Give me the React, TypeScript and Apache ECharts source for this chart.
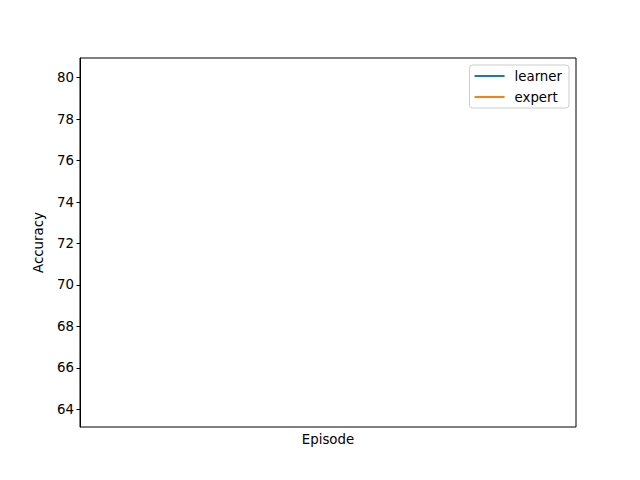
import React, { useEffect, useRef } from "react";
import * as echarts from "echarts";

const seriesNames = ["learner", "expert"];
const seriesColors = ["#1f77b4", "#ff7f0e"];
const learnerValues: number[] = [];
const expertValues: number[] = [];
const yTicks = [64, 66, 68, 70, 72, 74, 76, 78, 80];
const yMin = 63.15;
const yMax = 80.95;

export default function App() {
  const ref = useRef<HTMLDivElement>(null);
  useEffect(() => {
    if (!ref.current) return;
    const chart = echarts.init(ref.current, undefined, { renderer: "svg" });
    const font = "DejaVu Sans";
    chart.setOption({
      animation: false,
      backgroundColor: "#ffffff",
      textStyle: { fontFamily: font },
      grid: {
        left: 80,
        top: 58,
        width: 496,
        height: 369,
        show: true,
        borderColor: "#000000",
        borderWidth: 1,
        backgroundColor: "transparent",
      },
      legend: {
        show: true,
        orient: "vertical",
        right: 71,
        top: 65,
        data: seriesNames,
        icon: "rect",
        itemWidth: 30,
        itemHeight: 2,
        itemGap: 7,
        padding: [4, 7, 4, 5],
        borderColor: "#cccccc",
        borderWidth: 1,
        borderRadius: 3,
        backgroundColor: "rgba(255,255,255,0.8)",
        textStyle: {
          fontFamily: font,
          fontSize: 13.33,
          color: "#000000",
          lineHeight: 14,
          padding: [0, 0, 0, 5],
        },
      },
      xAxis: {
        type: "value",
        min: 0,
        max: 1,
        name: "Episode",
        nameLocation: "middle",
        nameGap: 6,
        nameTextStyle: { fontFamily: font, fontSize: 13.33, color: "#000000" },
        axisLine: { show: false },
        axisTick: { show: false },
        axisLabel: { show: false },
        splitLine: { show: false },
      },
      yAxis: {
        type: "value",
        min: yMin,
        max: yMax,
        name: "Accuracy",
        nameLocation: "middle",
        nameGap: 35,
        nameTextStyle: { fontFamily: font, fontSize: 13.33, color: "#000000" },
        axisLine: { show: true, lineStyle: { color: "#000000", width: 1 } },
        axisTick: {
          show: true,
          length: 3.5,
          lineStyle: { color: "#000000", width: 1 },
          customValues: yTicks,
        },
        axisLabel: {
          show: true,
          fontFamily: font,
          fontSize: 13.33,
          color: "#000000",
          margin: 6,
          customValues: yTicks,
        },
        splitLine: { show: false },
      },
      series: [
        {
          name: seriesNames[0],
          type: "line",
          data: learnerValues,
          color: seriesColors[0],
          symbol: "none",
          lineStyle: { color: seriesColors[0], width: 1.5 },
        },
        {
          name: seriesNames[1],
          type: "line",
          data: expertValues,
          color: seriesColors[1],
          symbol: "none",
          lineStyle: { color: seriesColors[1], width: 1.5 },
        },
      ],
    });
    return () => chart.dispose();
  }, []);
  return (
    <div
      ref={ref}
      style={{ position: "fixed", left: 0, top: 0, width: 640, height: 480 }}
    />
  );
}
